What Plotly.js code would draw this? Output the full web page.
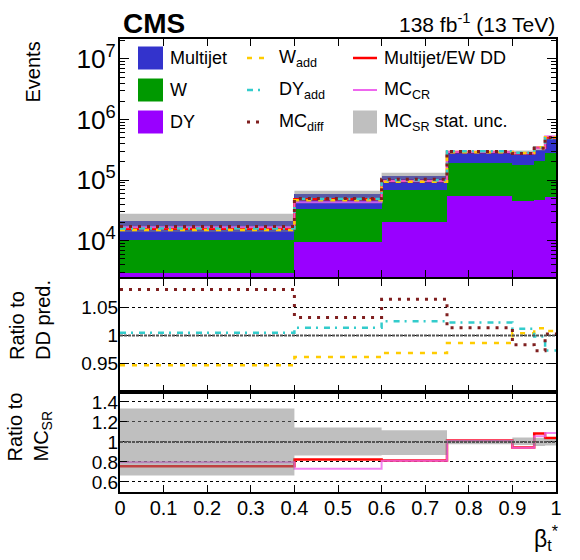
<!DOCTYPE html>
<html><head><meta charset="utf-8">
<script src="https://cdn.plot.ly/plotly-3.0.1.min.js"></script>
<style>html,body{margin:0;padding:0;background:#fff}</style>
</head><body>
<div id="chart" style="width:580px;height:560px"></div>
<script>
// ---- data ----
const binEdges = [0, 0.4, 0.6, 0.75, 0.9, 0.95, 0.975, 1.0];
const dyEvents = [2890, 9420, 20100, 54800, 45300, 47100, 52100];
const wEvents = [7380, 23580, 48800, 137200, 132700, 159900, 232900];
const multijetEvents = [10600, 25600, 50000, 96000, 117000, 110000, 200000];
const mcSRUncUp = [1.334, 1.144, 1.117, 1.02, 1.045, 1.04, 1.03];
const mcSRUncDown = [0.666, 0.865, 0.87, 0.978, 0.97, 0.96, 0.965];
const ddOverMCSR = [0.757, 0.824, 0.814, 1.014, 0.944, 1.084, 1.04];
const mcCROverMCSR = [0.797, 0.733, 0.812, 1.012, 0.942, 1.057, 1.09];
const wAddOverDD = [0.9475, 0.9617, 0.9688, 0.9865, 1.004, 1.013, 1.008];
const dyAddOverDD = [1.0048, 1.0137, 1.025, 1.023, 1.012, 0.998, 0.9734];
const mcDiffOverDD = [1.0815, 1.032, 1.064, 1.0137, 0.9835, 0.973, 1.0025];
const yTopTicks = [0.95, 1, 1.05];
const yBotTicks = [0.6, 0.8, 1, 1.2, 1.4];

// ---- helpers ----
const nb = binEdges.length - 1;
const centers = [], widths = [];
for (let i = 0; i < nb; i++) { centers.push((binEdges[i] + binEdges[i+1]) / 2); widths.push(binEdges[i+1] - binEdges[i]); }
const step = v => v.concat([v[v.length - 1]]);
const mul = (a, b) => a.map((x, i) => x * b[i]);
const mcSR = dyEvents.map((v, i) => v + wEvents[i] + multijetEvents[i]);
const ddPred = mul(mcSR, ddOverMCSR);

const FONT = 'Liberation Sans, Arial, Helvetica, sans-serif';
const W = 580, H = 560, ML = 120, MR = 24, MT = 39, MB = 68;
const px2x = p => (p - ML) / (W - ML - MR);
const px2y = p => (H - MB - p) / (H - MT - MB);

const C = {dy:'#9900ff', w:'#009900', mj:'#3333cc', band:'rgba(128,128,128,0.5)',
  red:'#ff0000', pink:'#ee66ee', yellow:'#ffcc00', cyan:'#33cccc', brown:'#7f1f1f'};
const styles = {
  red:{color:C.red, width:2.5},
  pink:{color:C.pink, width:2},
  yellow:{color:C.yellow, width:2.5, dash:'5px,7px'},
  cyan:{color:C.cyan, width:2.5, dash:'6px,5px,2px,6px'},
  brown:{color:C.brown, width:3, dash:'3px,6px'}
};

function stepLine(y, xa, ya, st, extra) {
  return Object.assign({type:'scatter', mode:'lines', x:binEdges, y:step(y), xaxis:xa, yaxis:ya,
    line:Object.assign({shape:'hv'}, st), hoverinfo:'skip', showlegend:false}, extra || {});
}
function bandTraces(lo, hi, xa, ya) {
  return [
    {type:'scatter', mode:'lines', x:binEdges, y:step(lo), xaxis:xa, yaxis:ya, line:{shape:'hv', width:0, color:'rgba(0,0,0,0)'}, hoverinfo:'skip', showlegend:false},
    {type:'scatter', mode:'lines', x:binEdges, y:step(hi), xaxis:xa, yaxis:ya, line:{shape:'hv', width:0, color:'rgba(0,0,0,0)'}, fill:'tonexty', fillcolor:C.band, hoverinfo:'skip', showlegend:false}
  ];
}

const traces = [];
// top panel stack
[[dyEvents, C.dy], [wEvents, C.w], [multijetEvents, C.mj]].forEach(([v, col]) => {
  traces.push({type:'bar', x:centers, y:v, width:widths, xaxis:'x', yaxis:'y', marker:{color:col, line:{width:0}}, hoverinfo:'skip', showlegend:false});
});
traces.push(...bandTraces(mul(mcSR, mcSRUncDown), mul(mcSR, mcSRUncUp), 'x', 'y'));
traces.push(stepLine(ddPred, 'x', 'y', styles.red));
traces.push(stepLine(mul(mcSR, mcCROverMCSR), 'x', 'y', styles.pink, {opacity:0.8}));
traces.push(stepLine(mul(ddPred, wAddOverDD), 'x', 'y', styles.yellow));
traces.push(stepLine(mul(ddPred, dyAddOverDD), 'x', 'y', styles.cyan));
traces.push(stepLine(mul(ddPred, mcDiffOverDD), 'x', 'y', styles.brown));
// ratio to DD
traces.push(stepLine(wAddOverDD, 'x2', 'y2', styles.yellow));
traces.push(stepLine(dyAddOverDD, 'x2', 'y2', styles.cyan));
traces.push(stepLine(mcDiffOverDD, 'x2', 'y2', styles.brown));
// ratio to MC SR
traces.push(stepLine(ddOverMCSR, 'x3', 'y3', styles.red));
traces.push(stepLine(mcCROverMCSR, 'x3', 'y3', styles.pink, {opacity:0.8}));
traces.push(...bandTraces(mcSRUncDown, mcSRUncUp, 'x3', 'y3'));

const xBase = {range:[0,1], showline:true, linewidth:2, linecolor:'black', mirror:'allticks',
  ticks:'inside', ticklen:7, tickcolor:'black', dtick:0.1, tick0:0, showgrid:false, zeroline:false,
  tickfont:{family:FONT, size:20, color:'black'}};
const yBase = {showline:true, linewidth:2, linecolor:'black', mirror:'allticks', ticks:'inside',
  ticklen:7, tickcolor:'black', zeroline:false, tickfont:{family:FONT, size:19, color:'black'}};

const annotations = [];
const shapes = [];
const ann = (text, xpx, ypx, o) => annotations.push(Object.assign({text:text, x:px2x(xpx), y:px2y(ypx), xref:'paper', yref:'paper',
  showarrow:false, font:{family:FONT, size:18, color:'black'}}, o || {}));

ann('<b>CMS</b>', 121, 23, {xanchor:'left', yanchor:'middle', font:{family:FONT, size:28, color:'black'}});
ann('138 fb<sup>-1</sup> (13 TeV)', 557, 23, {xanchor:'right', yanchor:'middle', font:{family:FONT, size:21, color:'black'}});
ann('Events', 32, 40, {textangle:-90, xanchor:'center', yanchor:'top', font:{family:FONT, size:20, color:'black'}});
ann('Ratio to<br>DD pred.', 30, 362, {textangle:-90, xanchor:'center', yanchor:'bottom', align:'left', font:{family:FONT, size:20, color:'black'}});
ann('Ratio to<br>MC<sub>SR</sub>', 29, 464, {textangle:-90, xanchor:'center', yanchor:'bottom', align:'left', font:{family:FONT, size:20, color:'black'}});
ann('β<sub>t</sub><sup>*</sup>', 561, 520, {xanchor:'right', yanchor:'top', font:{family:FONT, size:23, color:'black'}});

// legend (3 columns x 3 rows)
const rowsY = [58, 90, 122];
const boxItems = [['Multijet', C.mj, 0], ['W', C.w, 1], ['DY', C.dy, 2]];
boxItems.forEach(([t, col, r]) => {
  shapes.push({type:'rect', xref:'paper', yref:'paper', x0:px2x(138), x1:px2x(163), y0:px2y(rowsY[r]-11.5), y1:px2y(rowsY[r]+11.5), fillcolor:col, line:{width:0}});
  ann(t, 168, rowsY[r], {xanchor:'left', yanchor:'middle'});
});
const lineItems = [
  ['W<sub>add</sub>', styles.yellow, 247, 265, 277, 0],
  ['DY<sub>add</sub>', styles.cyan, 247, 265, 277, 1],
  ['MC<sub>diff</sub>', styles.brown, 247, 265, 277, 2],
  ['Multijet/EW DD', styles.red, 353, 377, 382, 0],
  ['MC<sub>CR</sub>', styles.pink, 353, 377, 382, 1]
];
lineItems.forEach(([t, st, a, b, tx, r]) => {
  shapes.push({type:'line', xref:'paper', yref:'paper', x0:px2x(a), x1:px2x(b), y0:px2y(rowsY[r]), y1:px2y(rowsY[r]), line:Object.assign({}, st)});
  ann(t, tx, rowsY[r], {xanchor:'left', yanchor:'middle'});
});
shapes.push({type:'rect', xref:'paper', yref:'paper', x0:px2x(353), x1:px2x(377), y0:px2y(rowsY[2]-11.5), y1:px2y(rowsY[2]+11.5), fillcolor:C.band, line:{width:0}});
ann('MC<sub>SR</sub> stat. unc.', 382, rowsY[2], {xanchor:'left', yanchor:'middle'});

// reference lines at 1 in ratio panels
['y2', 'y3'].forEach(ya => shapes.push({type:'line', xref:'paper', x0:0, x1:1, yref:ya, y0:1, y1:1, layer:'above', line:{color:'#555', width:2, dash:'3px,1px'}}));

const layout = {
  width:W, height:H, margin:{l:ML, r:MR, t:MT, b:MB, pad:0},
  paper_bgcolor:'white', plot_bgcolor:'white', showlegend:false, hovermode:false,
  barmode:'stack', bargap:0,
  font:{family:FONT, color:'black'},
  xaxis:Object.assign({}, xBase, {anchor:'y', showticklabels:false}),
  xaxis2:Object.assign({}, xBase, {anchor:'y2', showticklabels:false}),
  xaxis3:Object.assign({}, xBase, {anchor:'y3', showticklabels:true, ticklabelstandoff:-3}),
  yaxis:Object.assign({}, yBase, {domain:[0.4746, 1], type:'log', range:[3.4, 7.33], dtick:1, exponentformat:'power', ticklen:9,
    tickfont:{family:FONT, size:21, color:'black'}, showgrid:false, ticklabelstandoff:-2,
    minor:{ticks:'inside', ticklen:5, tickcolor:'black', dtick:'D1', showgrid:false}}),
  yaxis2:Object.assign({}, yBase, {domain:[0.2208, 0.4702], range:[0.9, 1.1], tickmode:'array', tickvals:yTopTicks,
    ticktext:yTopTicks.map(String), showgrid:true, gridcolor:'black', griddash:'dot', gridwidth:1, ticklabelstandoff:-4}),
  yaxis3:Object.assign({}, yBase, {domain:[0, 0.2208], range:[0.5, 1.5], tickmode:'array', tickvals:yBotTicks,
    ticktext:yBotTicks.map(String), showgrid:true, gridcolor:'black', griddash:'dot', gridwidth:1, ticklabelstandoff:-4}),
  annotations:annotations, shapes:shapes
};
Plotly.newPlot('chart', traces, layout, {displayModeBar:false, staticPlot:true});
</script>
</body></html>
